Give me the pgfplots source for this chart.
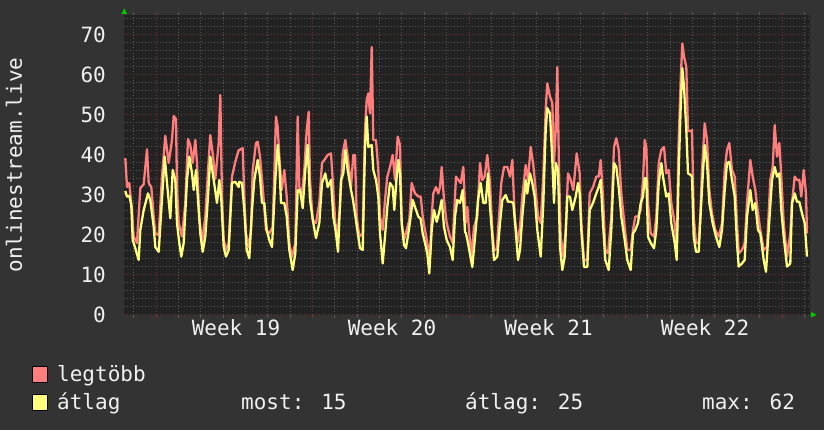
\documentclass[border=0pt]{standalone}
\usepackage{fontspec}
\setmainfont{DejaVu Sans Mono}
\usepackage{pgfplots}
\pgfplotsset{compat=1.18}
\definecolor{outerbg}{RGB}{51,51,51}
\definecolor{plotbg}{RGB}{34,34,34}
\definecolor{majorgrid}{RGB}{120,52,52}
\definecolor{minorgrid}{RGB}{88,88,88}
\definecolor{fg}{RGB}{240,240,240}
\definecolor{maxc}{RGB}{255,125,125}
\definecolor{avgc}{RGB}{255,255,125}
\definecolor{arrowc}{RGB}{0,204,0}
\newcommand{\bigfont}{\fontsize{21}{21}\selectfont}
\begin{document}
\begin{tikzpicture}
\fill[outerbg] (0pt,0pt) rectangle (824pt,430pt);
\useasboundingbox (0pt,0pt) rectangle (824pt,430pt);
\begin{axis}[
  at={(124pt,115pt)}, anchor=south west,
  width=686pt, height=300pt, scale only axis,
  xmin=124, xmax=810, ymin=0, ymax=75,
  axis background/.style={fill=plotbg},
  axis line style={draw=none},
  ytick={0,10,...,70},
  minor ytick={2,4,6,8,12,14,16,18,22,24,26,28,32,34,36,38,42,44,46,48,52,54,56,58,62,64,66,68,72,74},
  xtick={156,312.5,469,625.5,782},
  xticklabels={},
  minor xtick={133.64,178.35,200.71,223.07,245.43,267.78,290.14,334.85,357.21,379.57,401.92,424.28,446.64,491.35,513.71,536.07,558.42,580.78,603.14,647.85,670.21,692.56,714.92,737.28,759.64,804.35},
  extra x ticks={236,392,548.5,705},
  extra x tick labels={Week 19,Week 20,Week 21,Week 22},
  extra x tick style={grid=none, major tick length=0pt},
  grid=both,
  major grid style={draw=majorgrid, dash pattern=on 1pt off 2pt, line width=1pt},
  minor grid style={draw=minorgrid, dash pattern=on 1pt off 2pt, line width=1pt},
  tick align=outside,
  major tick length=3pt, minor tick length=3pt,
  xtick style={draw=majorgrid, line width=1pt},
  minor x tick style={draw=minorgrid, line width=1pt},
  ytick style={draw=none},
  minor y tick style={draw=none},
  tick label style={text=fg, font=\bigfont},
  /pgf/number format/assume math mode=true,
  yticklabel style={anchor=east, inner sep=0pt, xshift=-15pt},
  xticklabel style={anchor=north, inner sep=0pt, yshift=-4pt},
  clip=true,
]
\addplot[maxc, line width=2.3pt, line join=round] coordinates {
(125.3,39.2) (127,32) (129.3,33) (132,26) (133.7,19.6) (137,18) (140.3,31.7) (143.7,32.7) (147,41.4) (148.7,33) (151.3,32) (153.7,24.6) (155.3,20.4) (158.7,20) (162,34.6) (165.3,44.8) (168.7,38) (172,43.75) (173.7,49.75) (176,49) (177,32) (178.7,23) (182,19.6) (185.3,28) (188,44) (190.3,42.5) (192.7,38) (195.3,43.75) (197,38) (199.3,24.6) (202,18) (205.3,24.6) (208,36) (210.3,45) (212.7,40.4) (215.3,34) (218.7,43) (220.3,55) (222,29.6) (223.7,18.75) (226,16.25) (228.7,18) (232,34.6) (235.3,38.3) (238.7,41.25)
(239.3,41.25) (242.7,41.7) (244.3,29.6) (246,20.4) (248.7,17) (251,21.25) (252.7,36.25) (256,43) (257.7,43.3) (260,39.6) (262.7,32) (266,21.25) (269.3,20.4) (272.7,22) (274.3,35.4) (276,49.6) (277.7,47) (279.3,39.6) (281.7,31.25) (284.3,36.25) (286.7,29.6) (289.3,18) (292,14.6) (295.3,18) (297.7,49.6) (299.3,32) (302,30.4) (304.3,36.25) (306.7,46.25) (308.7,50.8) (310,33.75) (312.7,23.75) (316,23) (319.3,28) (322,38) (324.3,38.75) (327.7,40) (331,40.4) (332.7,33.75) (335.3,23) (337.7,20.4) (340,27) (342.7,40.4) (345.3,43.75) (347.7,39.6) (351,32)
(353.3,40) (355,40) (356.7,24.6) (359.3,19.6) (362.7,20.4) (365,46.25) (366.7,53.75) (368.3,55.4) (370,50.4) (371.7,67) (373.3,43.75) (376,43.75) (378.3,36.25) (380,24.6) (382.7,21.25) (385,28.75) (387.3,34.6) (390,37) (392.7,40) (395,33.75) (397.7,44.6) (400,42.5) (401.7,23) (404,18.75) (406.7,21.25) (409.3,23.75) (411.7,33) (415,30.4) (418.3,29.6) (420.7,29.6) (422.7,24.6) (425,21.25) (427.3,18) (430,14.6) (431.7,24.6) (433.3,30.4) (436,32) (438.3,30.4) (440,32) (441.7,37) (444,28.75) (446.7,23) (450,19.6) (452.7,18) (456,34.6) (458.3,33.75) (460.7,33) (463.3,37) (465,27)
(465.7,23) (467.3,27) (469,21.25) (471.3,14.6) (474,22) (477.3,24.6) (480,38) (482.3,33.75) (484.7,34.6) (487.3,40) (490,33) (492.3,21.25) (494,16.25) (496.7,16.25) (499,24.6) (501.3,33) (504,37) (507.3,37) (510,34.6) (512.3,38.75) (514.7,24.6) (517.3,18) (520,22) (522.3,29.6) (525.7,37.5) (528,33.75) (530.7,42) (533.3,37.5) (535.7,31.25) (538,24.6) (540.7,23) (543.3,34.6) (545.7,51.25) (547.3,57.9) (550,54.6) (552.3,53) (554,38) (555.7,46.25) (557.3,62) (559,36.25) (560.7,19.6) (563.3,14.6) (565.7,21.25) (568,35.4) (570.7,33.75) (573.3,31.25) (576.7,40.4)
(579.7,35.4) (581.3,23) (584,13.75) (587.3,13.75) (589.7,30.4) (593,32) (596.3,34.6) (598.7,34.6) (600.7,38.75) (603,29.6) (605.3,16.25) (608,15.4) (611.3,24.6) (614,42) (616.3,44.2) (618.7,41.25) (621.3,30.4) (624.7,22) (627.3,16.25) (630.7,16.25) (633,21.25) (635.3,24.6) (638,24.6) (640.7,26.25) (643,33.75) (644.7,43.75) (646.3,42) (648,28) (650.7,20.4) (654,19.6) (656.3,24.6) (658.7,38) (661.3,41.25) (664,42) (666.3,35.4) (668.7,36.25) (671.3,28) (674.7,23) (676.7,17) (678.7,43.75) (680.7,58.75) (682.3,67.9) (684,64.6) (686.3,62) (688,46) (690.7,46)
(692,46.25) (693.7,24.6) (696,18) (698.7,18) (700.3,24.6) (702,36.25) (704.7,47.9) (707,43.75) (709.3,31.25) (712,25.4) (715.3,21.25) (718.7,19.6) (722,22.9) (724.7,36.25) (727,41.25) (729.3,43) (732,36.25) (734.7,34.6) (737,22.9) (738.7,15.4) (742,16.25) (744.7,18) (747,28) (750.3,38.75) (752.7,34.6) (755.3,31.25) (758,25.4) (760.3,21.25) (763.7,16.25) (767,17) (770.3,33.75) (772.7,37) (774.7,47.5) (777,39.6) (779.3,43) (781.3,34.6) (783.7,22.9) (787,14.6) (790.3,20.4) (792,28) (794.7,34.6) (797,33.75) (799.3,33.75) (801.3,29.6) (803.7,36.25) (806,30.4) (807,20.4)
};
\addplot[avgc, line width=2.3pt, line join=round] coordinates {
(125.3,31) (127,29.6) (129.3,29.8) (131.3,27.5) (132.7,18.75) (135.3,16.7) (138.7,13.75) (140.3,21.25) (143.7,26.25) (148,30.4) (150.3,28.75) (153.7,22) (155.3,17) (158.7,15.8) (161.3,26.25) (164.7,39.6) (167,33) (170.3,24.2) (172.7,36.25) (175.3,33.75) (177,23) (179.3,18) (181.3,14.6) (183.7,18) (187,33.75) (189.3,39.6) (192,35.4) (193.7,31.25) (196,36.25) (198,28.75) (200.3,20.4) (202.7,15.8) (205.3,19.6) (208,29.6) (210.3,39.6) (213.7,33.75) (217,28) (219.3,33.75) (221.3,28.75) (223.7,17) (226,14.6) (228.7,16.25) (232,33) (235.3,33.3) (238.7,32)
(239.3,33.3) (242,33) (244.3,26.25) (246.7,16.25) (249.3,14.2) (252,26.25) (254.3,33.75) (257.7,38.75) (260,34.6) (262,28) (264.3,28) (266.7,21.25) (269.3,18.75) (272,17) (275.3,33.75) (277.7,42.5) (279.3,38) (281,28) (284.3,28) (286.7,24.6) (289.3,16.25) (292.7,11.25) (295.3,15.4) (297.7,31.25) (300,31.25) (302.7,26.7) (305.3,36.25) (307.7,42.5) (310,28.75) (313.3,23) (316,19.2) (319.3,23) (322,33) (325.3,35.4) (327.7,32) (331,33.75) (333.3,24.6) (336,20.4) (338,15.8) (341,33.75) (343.3,35.4) (345.3,41.25) (347.7,36.25) (351,31.25)
(352.7,29.2) (355,25.4) (357.3,21.25) (360,16.7) (362.7,16.25) (365,42) (366.7,49.6) (368.3,42) (371.7,42.5) (373.3,36.25) (376,33.75) (378.3,29.6) (380,20.4) (382.7,12.9) (385,19.6) (387.3,27) (390,33) (392.7,32) (394.3,26.25) (396.7,34.6) (398.3,38.75) (400,35.4) (401.7,23) (404,17.5) (406,16.7) (409.3,22) (412.7,28.75) (415,27) (418.3,24.6) (420.7,24) (422.7,20.4) (425,18) (427.3,15.4) (429.3,10.4) (431.7,21.25) (434,26.25) (436.7,23.3) (439.3,25.8) (441.7,28.75) (444,22) (446.7,18.75) (450,17) (452.7,13.75) (455,24.6) (457.3,28.75) (460,28) (462.7,31.25) (465,20.8)
(466,20.4) (468,18) (472.3,12) (475.7,21.25) (478,28.75) (480.7,33) (483.3,28) (485.7,28) (488,35.4) (490,27) (492.3,19.6) (494,13.75) (497.3,14.6) (500,23) (502.3,28.75) (505.7,30) (508,28.3) (510.7,28.3) (513.3,28) (515.7,21.25) (518,13.75) (520,16.25) (522.3,24.6) (525.7,33.75) (527.3,30.4) (530,35.4) (532.3,33) (534.7,29.6) (537.3,21.25) (540.7,14.6) (543.3,28) (545.7,46.25) (547.3,51.7) (550,50.4) (552.3,38.75) (554,28) (555.7,38) (558,36.25) (560,17) (562.3,11.25) (564.7,14.6) (567.3,29.6) (570,29.6) (572.3,26.25) (575.7,29.6) (578,33)
(579.7,30.4) (581.3,21.25) (584,12) (587.3,12) (589.7,26.25) (593,28) (596.3,30.4) (598.7,32) (600.7,33.75) (603,22.9) (605.3,13.75) (608.7,11.25) (611.3,21.25) (614,38) (616.3,37) (618.7,32) (621.3,24.6) (624.7,18.75) (627.3,13.75) (630.7,11.25) (633,20.4) (635.3,21.25) (638,23) (640.7,28) (643,29.6) (644.7,34.2) (646.3,34.2) (648,19.6) (650.7,18) (654,16.7) (656.3,21.25) (658.7,33) (661.3,38) (663,34.6) (666.3,29.6) (668.7,30.4) (671.3,22.9) (674.7,18) (676.7,13.75) (678.7,36.25) (680.7,52) (682.3,61.7) (684,57) (686.3,46.25) (688,35.4) (690.7,35)
(692,34.6) (693.7,19.6) (696,15.8) (698.7,15.8) (700.3,23.75) (702.7,34.6) (704.7,42.5) (707,38) (709.3,28) (712.7,22.9) (716,19.6) (719.3,17) (722,21.25) (724.7,31.25) (727,38) (729.3,38.3) (732,33.75) (734.7,29.6) (737,18) (738.7,12.1) (742,12.9) (744.7,13.75) (747,24.6) (750.3,31.25) (752.7,26.25) (755.3,28) (758,21.25) (760.3,20.4) (763.7,13.75) (766,10.8) (768.7,21.25) (772,33.75) (774.7,37) (777,34.6) (779.3,35.4) (781.3,26.25) (783.7,19.6) (787,12.1) (790.3,12.9) (792,28) (794.7,30.4) (797,28.3) (799.3,28.3) (802,25.4) (804.7,22.9) (807,14.6)
};
\end{axis}
% axis arrows
\fill[arrowc] (121.5pt,416pt) -- (127pt,416pt) -- (124.25pt,421.5pt) -- cycle;
\fill[arrowc] (811pt,112.5pt) -- (811pt,118pt) -- (816.5pt,115.25pt) -- cycle;
% y label
\node[rotate=90, text=fg, font=\bigfont, anchor=center] at (14pt,265pt) {onlinestream.live};
% legend
\fill[maxc, draw=black, line width=0.8pt] (32pt,48pt) rectangle (47pt,64pt);
\fill[avgc, draw=black, line width=0.8pt] (32pt,20pt) rectangle (47pt,36pt);
\node[text=fg, font=\bigfont, anchor=base west, inner sep=0pt] at (57pt,48.5pt) {legtöbb};
\node[text=fg, font=\bigfont, anchor=base west, inner sep=0pt] at (57pt,20.5pt) {átlag};
\node[text=fg, font=\bigfont, anchor=base west, inner sep=0pt] at (241pt,20.5pt) {most: 15};
\node[text=fg, font=\bigfont, anchor=base west, inner sep=0pt] at (465pt,20.5pt) {átlag: 25};
\node[text=fg, font=\bigfont, anchor=base west, inner sep=0pt] at (702pt,20.5pt) {max: 62};
\end{tikzpicture}
\end{document}
